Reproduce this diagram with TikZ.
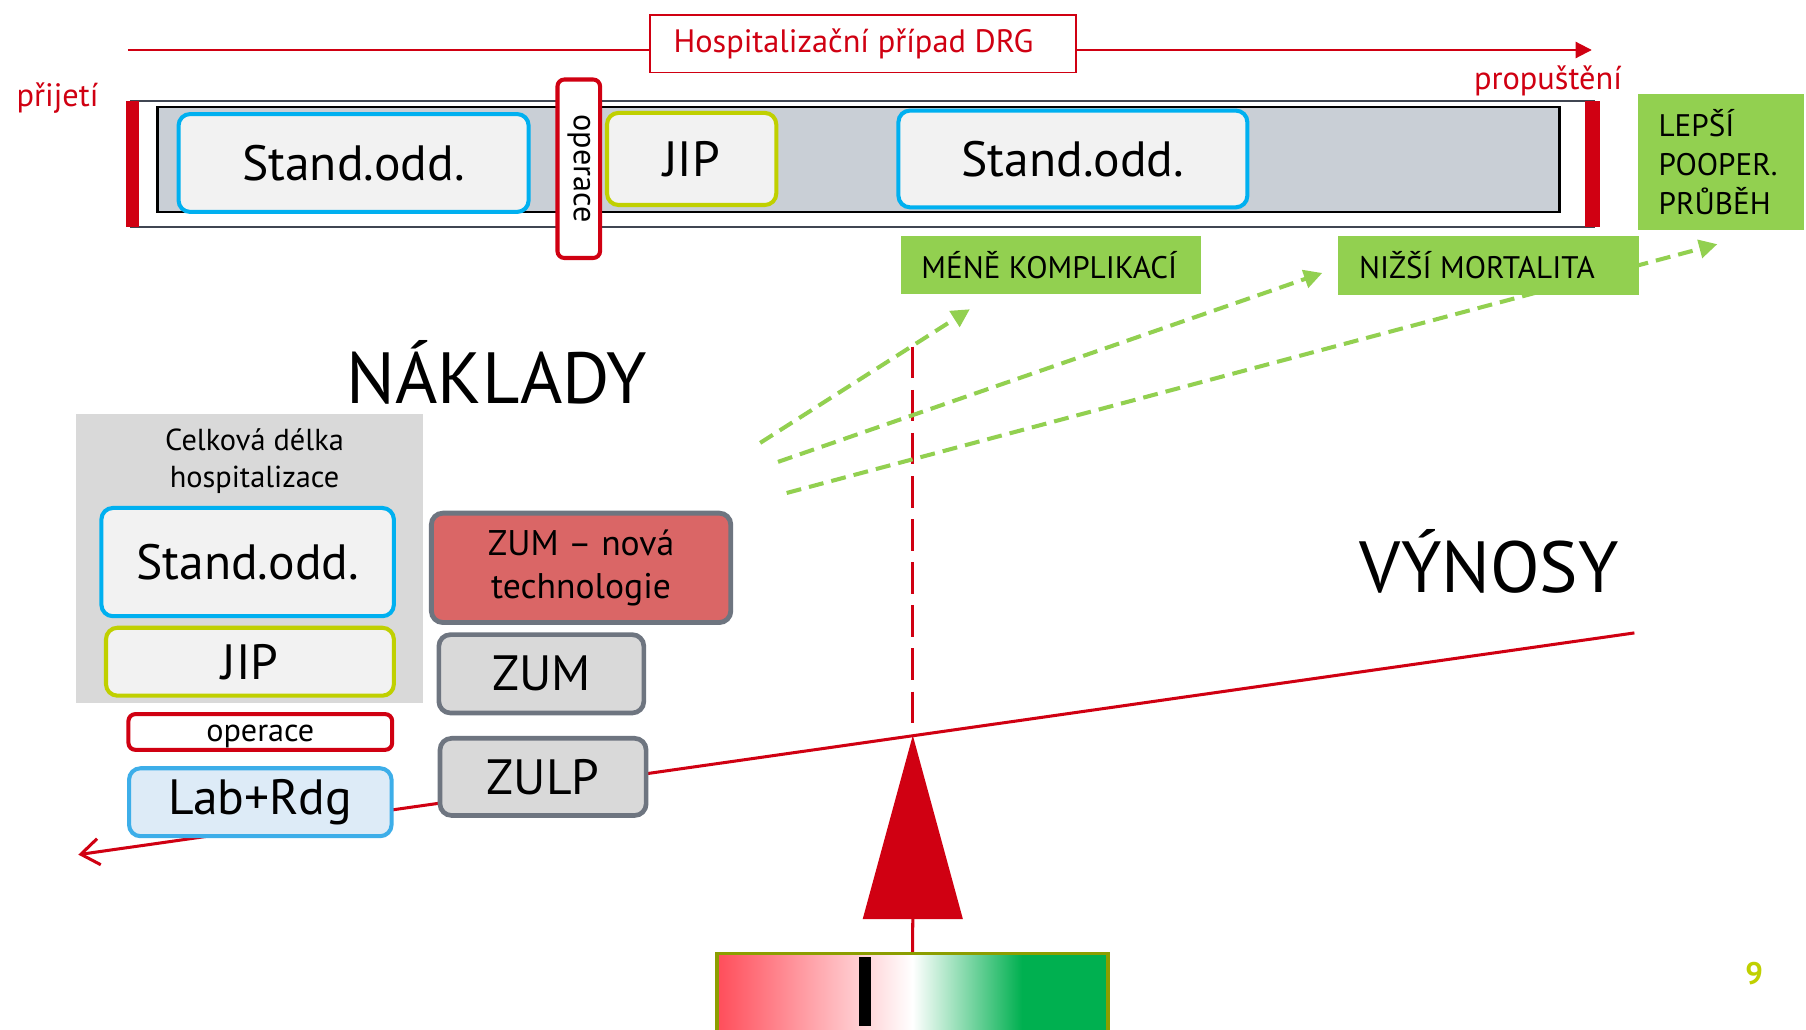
\documentclass[tikz,border=0pt]{standalone}
\usepackage{fontspec}
\setmainfont{PT Sans}
\usetikzlibrary{arrows.meta}
\definecolor{redc}{RGB}{208,0,18}
\definecolor{cyanc}{RGB}{0,176,240}
\definecolor{jipc}{RGB}{192,208,0}
\definecolor{boxfill}{RGB}{242,242,242}
\definecolor{barfill}{RGB}{201,207,214}
\definecolor{barline}{RGB}{64,70,82}
\definecolor{panelc}{RGB}{217,217,217}
\definecolor{zumfill}{RGB}{217,217,217}
\definecolor{zumline}{RGB}{110,117,128}
\definecolor{novafill}{RGB}{218,102,102}
\definecolor{labfill}{RGB}{221,235,247}
\definecolor{labline}{RGB}{61,174,233}
\definecolor{greenc}{RGB}{146,208,80}
\definecolor{olivec}{RGB}{140,158,0}
\definecolor{gred}{RGB}{255,77,90}
\definecolor{ggreen}{RGB}{0,176,80}
\definecolor{pagenum}{RGB}{192,208,0}
\pgfdeclarehorizontalshading{rgshade}{100bp}{color(0bp)=(gred); color(25bp)=(gred); color(50bp)=(white); color(64bp)=(ggreen); color(100bp)=(ggreen)}
\pgfdeclarelayer{back}
\pgfsetlayers{back,main}
\newcommand\fsz[2]{\fontsize{#1}{#2}\selectfont}
\tikzset{
  rbox/.style={rounded corners=0.2cm, line width=2pt, fill=boxfill, inner sep=0pt, text=black},
  standbox/.style={rbox, draw=cyanc, font=\fsz{24.5pt}{29pt}},
  jipbox/.style={rbox, draw=jipc, font=\fsz{24.5pt}{29pt}},
  opbox/.style={rounded corners=0.12cm, draw=redc, line width=2pt, fill=white, inner sep=0pt, font=\fsz{15.9pt}{19pt}},
  zumbox/.style={rbox, draw=zumline, line width=2.3pt, fill=zumfill, font=\fsz{24.5pt}{29pt}},
  greenbox/.style={fill=greenc, inner sep=0pt},
  gtext/.style={font=\fsz{15.4pt}{19.3pt}, inner sep=0pt, text=black},
  redtext/.style={font=\fsz{16pt}{19pt}, text=redc, inner sep=0pt},
  bigtext/.style={font=\fsz{35.8pt}{40pt}, inner sep=0pt, text=black},
  greenarrow/.style={greenc, line width=2pt, dash pattern=on 7.4pt off 4pt, -{Triangle[length=9pt,width=9pt]}},
  redline/.style={redc, line width=1.5pt}
}
\begin{document}
\begin{tikzpicture}[x=0.02cm,y=-0.02cm]
\useasboundingbox (0,0) rectangle (1568,894);
\begin{pgfonlayer}{back}
\fill[white] (0,0) rectangle (1568,894);
\end{pgfonlayer}
\clip (0,0) rectangle (1568,894);

% top timeline bar
\draw[barline, line width=1.1pt, fill=white] (114,88) rectangle (1384,197);
\draw[black, line width=1.3pt, fill=barfill] (137,93) rectangle (1354,184);
\fill[redc] (109,88) rectangle (121,197);
\fill[redc] (1376,88) rectangle (1389,197);

\node[draw=redc, line width=0.9pt, fill=white, minimum width=7.4cm, minimum height=1.0cm, inner sep=0pt, font=\fsz{16pt}{19pt}, text=redc] (title) at (749,38) {\hspace*{-0.32cm}Hospitalizační případ DRG};
\node[redtext, anchor=base] (prij) at (50,92.6) {přijetí};
\node[redtext, anchor=base] (prop) at (1344,77.6) {propuštění};

\node[standbox, minimum width=6.08cm, minimum height=1.70cm] (s1) at (307,141.5) {Stand.odd.};
\node[opbox, rotate=-90, minimum width=3.10cm, minimum height=0.74cm] (op1) at (502.5,146.5) {operace};
\node[jipbox, minimum width=2.94cm, minimum height=1.60cm] (j1) at (600.5,138) {JIP};
\node[standbox, minimum width=6.06cm, minimum height=1.68cm] (s2) at (931.5,138) {Stand.odd.};

% green outcome boxes
\node[greenbox, minimum width=5.22cm, minimum height=1.0cm] (mene) at (912.5,230) {};
\node[gtext, anchor=west] (meneT) at ([xshift=0.36cm]mene.west) {MÉNĚ KOMPLIKACÍ};
\node[greenbox, minimum width=5.22cm, minimum height=1.02cm] (nizsi) at (1292.5,230.5) {};
\node[gtext, anchor=west] (nizsiT) at ([xshift=0.36cm]nizsi.west) {NIŽŠÍ MORTALITA};
\node[greenbox, minimum width=2.88cm, minimum height=2.36cm] (lepsi) at (1494,141) {};
\node[gtext, anchor=west, align=left] (lepsiT) at ([xshift=0.36cm]lepsi.west) {LEPŠÍ\\POOPER.\\PRŮBĚH};

% headings
\node[bigtext, anchor=base] (nakl) at (431.5,350) {NÁKLADY};
\node[bigtext, anchor=base] (vyn) at (1293,514) {VÝNOSY};

% cost side
\fill[panelc] (66,359) rectangle (367,610);
\node[align=center, font=\fsz{15pt}{18.2pt}, inner sep=0pt] (celk) at (221,400) {Celková délka\\hospitalizace};
\node[standbox, minimum width=5.08cm, minimum height=1.88cm] (s3) at (215,488) {Stand.odd.};
\node[jipbox, minimum width=5.0cm, minimum height=1.18cm] (j2) at (217,574.5) {JIP};
\node[opbox, minimum width=4.58cm, minimum height=0.62cm] (op2) at (226,635.5) {\raisebox{-4.8pt}[0pt][0pt]{operace}};
\node[rbox, draw=labline, fill=labfill, minimum width=4.56cm, minimum height=1.18cm, font=\fsz{24.5pt}{29pt}] (lab) at (226,696.5) {Lab+Rdg};
\node[zumbox, fill=novafill, line width=2.4pt, minimum width=5.2cm, minimum height=1.9cm, align=center, font=\fsz{17.6pt}{21.6pt}] (nova) at (504.5,493) {ZUM – nová\\technologie};
\node[zumbox, minimum width=3.56cm, minimum height=1.36cm] (zum) at (470,585) {ZUM};
\node[zumbox, minimum width=3.58cm, minimum height=1.34cm] (zulp) at (471.5,674.5) {ZULP};

% fulcrum and gauge
\coordinate (apex) at (792.5,638.5);
\coordinate (tribase) at (792.5,798);
\fill[redc] (apex) -- (749,798) -- (836,798) -- cycle;
\node[draw=olivec, line width=1.6pt, shading=rgshade, minimum width=6.79cm, minimum height=1.5cm, inner sep=0pt, anchor=north] (gbox) at (792.25,826.5) {};
\fill[black] (746,831) rectangle (756,891);
\draw[redline] (tribase) -- (gbox.north);

\node[font=\fsz{15.4pt}{18pt}\bfseries, text=pagenum, inner sep=0pt] (pg) at (1523,845.5) {9};

% connector coordinates
\coordinate (tl) at (111,43.4);
\coordinate (tr) at (1382,43.4);
\coordinate (dtop) at (792.5,301);
\coordinate (a1s) at (660,384.5);
\coordinate (a1e) at (842,268.5);
\coordinate (a2s) at (675.5,401);
\coordinate (a2e) at (1148,237);
\coordinate (a3s) at (683,428);
\coordinate (a3e) at (1491,212);
\coordinate (levR) at (1419,549.5);
\coordinate (levL) at (68,742);

\begin{pgfonlayer}{back}
\draw[redc, line width=1pt, -{Triangle[length=8pt,width=8pt]}] (tl) -- (tr);
\draw[redline, dash pattern=on 15.6pt off 5.7pt] (dtop) -- (apex);
\draw[greenarrow] (a1s) -- (a1e);
\draw[greenarrow] (a2s) -- (a2e);
\draw[greenarrow] (a3s) -- (a3e);
\draw[redline, -{Straight Barb[length=9pt,width=13pt,line width=1.5pt]}] (levR) -- (levL);
\end{pgfonlayer}
\end{tikzpicture}
\end{document}
